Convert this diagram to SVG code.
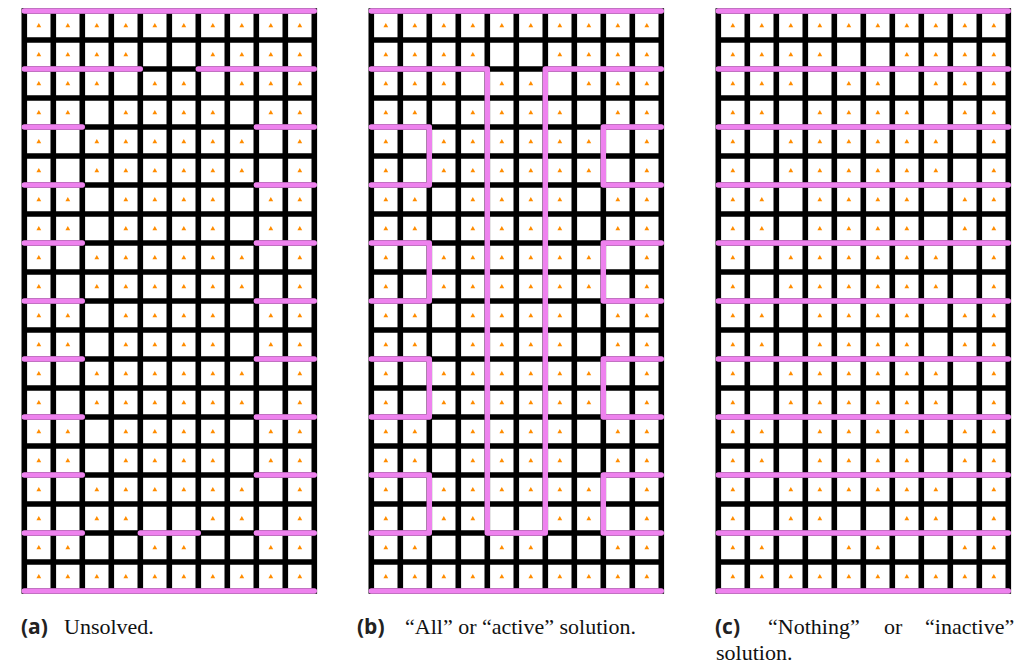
<svg xmlns="http://www.w3.org/2000/svg" xmlns:xlink="http://www.w3.org/1999/xlink" width="1019" height="666" viewBox="0 0 1019 666">
<style>
.grid{fill:none;stroke:#000;stroke-width:5.6;stroke-linecap:square}
.pink{fill:none;stroke:#ee82ee;stroke-width:5.4;stroke-linecap:round;stroke-linejoin:round}
.tri{fill:#ff8c00}
.lbl{font-family:"Open Sans","DejaVu Sans",sans-serif;font-weight:bold;font-size:21px;fill:#222}
.cap{font-family:"Liberation Serif","Times New Roman",serif;font-size:22px;fill:#111}
</style>
<defs>
<path id="t" class="tri" d="M-2.4,1.8 L2.4,1.8 L0,-2.4 Z"/>
<path id="gridlines" class="grid" d="M0,0H290M0,29H290M0,58H290M0,87H290M0,116H290M0,145H290M0,174H290M0,203H290M0,232H290M0,261H290M0,290H290M0,319H290M0,348H290M0,377H290M0,406H290M0,435H290M0,464H290M0,493H290M0,522H290M0,551H290M0,580H290M0,0V580M29,0V580M58,0V580M87,0V580M116,0V580M145,0V580M174,0V580M203,0V580M232,0V580M261,0V580M290,0V580"/>
<g id="rA"><use xlink:href="#t" x="14.5"/><use xlink:href="#t" x="72.5"/><use xlink:href="#t" x="101.5"/><use xlink:href="#t" x="130.5"/><use xlink:href="#t" x="159.5"/><use xlink:href="#t" x="188.5"/><use xlink:href="#t" x="217.5"/><use xlink:href="#t" x="275.5"/></g>
<g id="rB"><use xlink:href="#t" x="14.5"/><use xlink:href="#t" x="43.5"/><use xlink:href="#t" x="101.5"/><use xlink:href="#t" x="130.5"/><use xlink:href="#t" x="159.5"/><use xlink:href="#t" x="188.5"/><use xlink:href="#t" x="246.5"/><use xlink:href="#t" x="275.5"/></g>
<g id="tris">
<g transform="translate(0,14.5)"><use xlink:href="#t" x="14.5"/><use xlink:href="#t" x="43.5"/><use xlink:href="#t" x="72.5"/><use xlink:href="#t" x="101.5"/><use xlink:href="#t" x="130.5"/><use xlink:href="#t" x="159.5"/><use xlink:href="#t" x="188.5"/><use xlink:href="#t" x="217.5"/><use xlink:href="#t" x="246.5"/><use xlink:href="#t" x="275.5"/></g>
<g transform="translate(0,43.5)"><use xlink:href="#t" x="14.5"/><use xlink:href="#t" x="43.5"/><use xlink:href="#t" x="72.5"/><use xlink:href="#t" x="101.5"/><use xlink:href="#t" x="188.5"/><use xlink:href="#t" x="217.5"/><use xlink:href="#t" x="246.5"/><use xlink:href="#t" x="275.5"/></g>
<g transform="translate(0,72.5)"><use xlink:href="#t" x="14.5"/><use xlink:href="#t" x="43.5"/><use xlink:href="#t" x="72.5"/><use xlink:href="#t" x="130.5"/><use xlink:href="#t" x="159.5"/><use xlink:href="#t" x="217.5"/><use xlink:href="#t" x="246.5"/><use xlink:href="#t" x="275.5"/></g>
<use xlink:href="#rB" y="101.5"/>
<use xlink:href="#rA" y="130.5"/>
<use xlink:href="#rA" y="159.5"/>
<use xlink:href="#rB" y="188.5"/>
<use xlink:href="#rB" y="217.5"/>
<use xlink:href="#rA" y="246.5"/>
<use xlink:href="#rA" y="275.5"/>
<use xlink:href="#rB" y="304.5"/>
<use xlink:href="#rB" y="333.5"/>
<use xlink:href="#rA" y="362.5"/>
<use xlink:href="#rA" y="391.5"/>
<use xlink:href="#rB" y="420.5"/>
<use xlink:href="#rB" y="449.5"/>
<use xlink:href="#rA" y="478.5"/>
<g transform="translate(0,507.5)"><use xlink:href="#t" x="14.5"/><use xlink:href="#t" x="72.5"/><use xlink:href="#t" x="101.5"/><use xlink:href="#t" x="188.5"/><use xlink:href="#t" x="217.5"/><use xlink:href="#t" x="275.5"/></g>
<g transform="translate(0,536.5)"><use xlink:href="#t" x="14.5"/><use xlink:href="#t" x="43.5"/><use xlink:href="#t" x="130.5"/><use xlink:href="#t" x="159.5"/><use xlink:href="#t" x="246.5"/><use xlink:href="#t" x="275.5"/></g>
<g transform="translate(0,565.5)"><use xlink:href="#t" x="14.5"/><use xlink:href="#t" x="43.5"/><use xlink:href="#t" x="72.5"/><use xlink:href="#t" x="101.5"/><use xlink:href="#t" x="130.5"/><use xlink:href="#t" x="159.5"/><use xlink:href="#t" x="188.5"/><use xlink:href="#t" x="217.5"/><use xlink:href="#t" x="246.5"/><use xlink:href="#t" x="275.5"/></g>
</g>
</defs>
<rect width="1019" height="666" fill="#fff"/>
<g id="panel-a" transform="translate(24.3,11)">
<use xlink:href="#gridlines"/>
<use xlink:href="#tris"/>
<path class="pink" d="M0,0H290M0,58H116M174,58H290M0,116H58M232,116H290M0,174H58M232,174H290M0,232H58M232,232H290M0,290H58M232,290H290M0,348H58M232,348H290M0,406H58M232,406H290M0,464H58M232,464H290M0,522H58M116,522H174M232,522H290M0,580H290"/>
</g>
<g id="panel-b" transform="translate(371.3,11)">
<use xlink:href="#gridlines"/>
<use xlink:href="#tris"/>
<path class="pink" d="M0,0H290M0,58H116V522H174V58H290M0,116H58V174H0M0,232H58V290H0M0,348H58V406H0M0,464H58V522H0M290,116H232V174H290M290,232H232V290H290M290,348H232V406H290M290,464H232V522H290M0,580H290"/>
</g>
<g id="panel-c" transform="translate(718.3,11)">
<use xlink:href="#gridlines"/>
<use xlink:href="#tris"/>
<path class="pink" d="M0,0H290M0,58H290M0,116H290M0,174H290M0,232H290M0,290H290M0,348H290M0,406H290M0,464H290M0,522H290M0,580H290"/>
</g>
<g id="captions">
<text class="lbl" x="21" y="634">(a)</text>
<text class="cap" x="64" y="634">Unsolved.</text>
<text class="lbl" x="357" y="634">(b)</text>
<text class="cap" x="405" y="634">“All” or “active” solution.</text>
<text class="lbl" x="715" y="634">(c)</text>
<text class="cap" x="768" y="634">“Nothing”</text>
<text class="cap" x="884" y="634">or</text>
<text class="cap" x="925" y="634">“inactive”</text>
<text class="cap" x="716" y="660">solution.</text>
</g>
</svg>
